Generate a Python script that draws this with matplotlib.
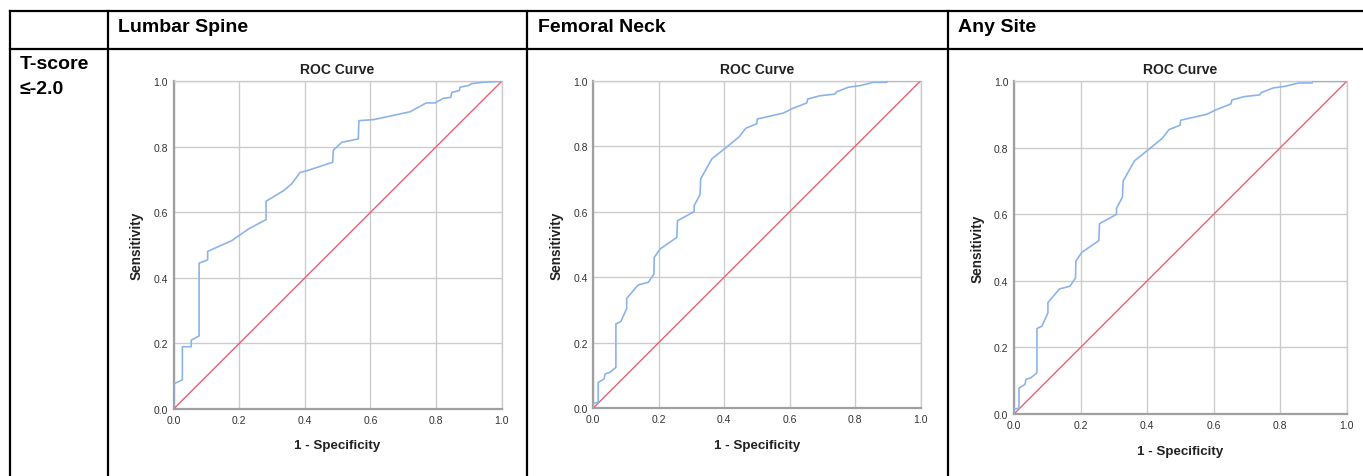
import matplotlib
matplotlib.use('Agg')
import matplotlib.pyplot as plt
from matplotlib.lines import Line2D

plt.rcParams['font.family'] = ['Liberation Sans', 'DejaVu Sans']

# ROC curve points
lumbar_fpr = [0.0, 0.0, 0.027, 0.027, 0.054, 0.054, 0.078, 0.078, 0.104, 0.104,
              0.178, 0.228, 0.282, 0.282, 0.335, 0.36, 0.386, 0.406, 0.485, 0.487,
              0.513, 0.563, 0.565, 0.609, 0.721, 0.77, 0.797, 0.822, 0.845, 0.848,
              0.871, 0.873, 0.898, 0.909, 0.944, 1.0]
lumbar_tpr = [0.0, 0.076, 0.089, 0.19, 0.19, 0.21, 0.223, 0.445, 0.455, 0.481,
              0.514, 0.549, 0.578, 0.634, 0.666, 0.687, 0.722, 0.727, 0.753, 0.79,
              0.814, 0.824, 0.88, 0.883, 0.907, 0.934, 0.934, 0.948, 0.951, 0.966,
              0.972, 0.982, 0.987, 0.993, 0.997, 1.0]

neck_fpr = [0.0, 0.0, 0.015, 0.015, 0.033, 0.036, 0.051, 0.069, 0.069, 0.084,
            0.102, 0.102, 0.137, 0.168, 0.185, 0.186, 0.204, 0.255, 0.257, 0.308,
            0.308, 0.326, 0.328, 0.362, 0.412, 0.446, 0.466, 0.499, 0.501, 0.58,
            0.611, 0.652, 0.655, 0.692, 0.738, 0.743, 0.779, 0.815, 0.855, 0.896,
            0.898, 1.0]
neck_tpr = [0.0, 0.015, 0.017, 0.078, 0.089, 0.104, 0.109, 0.124, 0.257, 0.264,
            0.304, 0.335, 0.376, 0.384, 0.409, 0.46, 0.486, 0.521, 0.572, 0.6,
            0.618, 0.652, 0.7, 0.761, 0.801, 0.829, 0.855, 0.868, 0.883, 0.901,
            0.916, 0.932, 0.944, 0.954, 0.959, 0.966, 0.98, 0.985, 0.995, 0.995,
            1.0, 1.0]

# any site curve looks the same as femoral neck
any_fpr = list(neck_fpr)
any_tpr = list(neck_tpr)

col_titles = ['Lumbar Spine', 'Femoral Neck', 'Any Site']
row_title = ['T-score', '\u2264-2.0']
ticks = [0.0, 0.2, 0.4, 0.6, 0.8, 1.0]

W, H = 1363, 477
fig = plt.figure(figsize=(W / 100, H / 100), dpi=100)


def px(x, y):
    """pixel coords (top-left origin) -> figure fraction"""
    return x / W, 1 - y / H


def hline(x0, x1, y):
    fig.add_artist(Line2D([x0 / W, x1 / W], [1 - y / H, 1 - y / H],
                          color='black', lw=1.6, transform=fig.transFigure))


def vline(x, y0, y1):
    fig.add_artist(Line2D([x / W, x / W], [1 - y0 / H, 1 - y1 / H],
                          color='black', lw=1.6, transform=fig.transFigure))


# table grid
hline(10, W, 12)
hline(10, W, 50)
vline(10, 12, H)
vline(108, 12, H)
vline(527, 12, H)
vline(948, 12, H)

for t, x in zip(col_titles, [118, 538, 958]):
    fig.text(*px(x, 31.5), t, fontsize=14, fontweight='bold', va='baseline', ha='left')
fig.text(*px(20, 69), row_title[0], fontsize=14, fontweight='bold', va='baseline')
fig.text(*px(20, 94), row_title[1], fontsize=14, fontweight='bold', va='baseline')

# axes boxes in pixels: left, top, right, bottom ; plus label positions
boxes = [(173.5, 82.3, 501.7, 410.0, 446.5, 136.7),
         (593.3, 81.7, 920.7, 409.0, 446.0, 556.7),
         (1014.0, 82.3, 1346.7, 415.0, 451.7, 977.3)]
curves = [(lumbar_fpr, lumbar_tpr), (neck_fpr, neck_tpr), (any_fpr, any_tpr)]

for (l, t, r, b, xl_y, yl_x), (fx, ty) in zip(boxes, curves):
    ax = fig.add_axes([l / W, 1 - b / H, (r - l) / W, (b - t) / H])
    ax.set_xlim(0, 1)
    ax.set_ylim(0, 1)
    ax.set_xticks(ticks)
    ax.set_yticks(ticks)
    ax.set_xticklabels(['%.1f' % v for v in ticks])
    ax.set_yticklabels(['%.1f' % v for v in ticks])
    ax.tick_params(length=0, labelsize=7.5, labelcolor='#333333', pad=4)
    ax.grid(True, color='#cccccc', lw=1.0)
    ax.set_axisbelow(True)
    for s in ['top', 'right']:
        ax.spines[s].set_color('#cccccc')
        ax.spines[s].set_linewidth(1.0)
    for s in ['left', 'bottom']:
        ax.spines[s].set_color('#a0a0a0')
        ax.spines[s].set_linewidth(1.6)
    ax.plot([0, 1], [0, 1], color='#f0606e', lw=1.0, zorder=3)
    ax.plot(fx, ty, color='#8db4ea', lw=1.2, zorder=4)
    cx = (l + r) / 2
    fig.text(*px(cx, 70), 'ROC Curve', fontsize=10, fontweight='bold', ha='center',
             va='center', color='#222222')
    fig.text(*px(cx, xl_y), '1 - Specificity', fontsize=9.6, fontweight='bold',
             ha='center', va='center', color='#222222')
    fig.text(*px(yl_x, (t + b) / 2), 'Sensitivity', fontsize=9.8, fontweight='bold',
             ha='center', va='center', rotation=90, color='#222222')

fig.savefig('out.png', dpi=100)
